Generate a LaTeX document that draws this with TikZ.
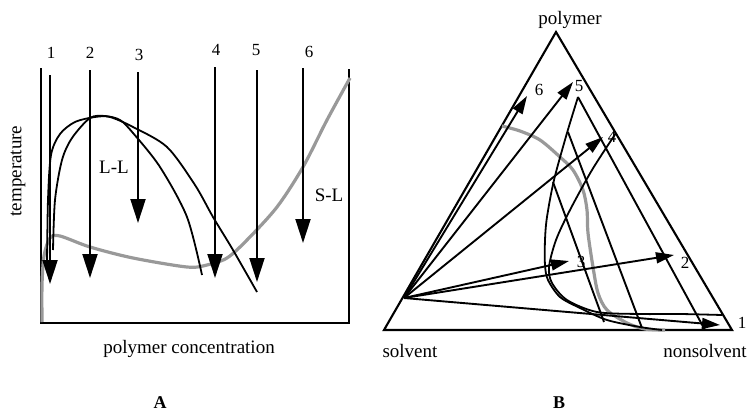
\documentclass[tikz,border=0pt]{standalone}
\usepackage{fontspec}
\setmainfont{Liberation Serif}
\usetikzlibrary{arrows.meta}

\begin{document}
\begin{tikzpicture}[
    x=1pt, y=-1pt,
    frame/.style={line width=2.1pt},
    cool/.style={-{Triangle[length=24pt, width=15pt]}, line width=2pt},
    ray/.style={-{Triangle[length=18pt, width=11pt]}, line width=1.9pt},
    curve/.style={line width=1.8pt, line join=round},
    tie/.style={line width=1.9pt},
    sl/.style={line width=3.2pt, black!40, line join=round},
    word/.style={font=\fontsize{19}{21}\selectfont, inner sep=0pt},
    num/.style={font=\fontsize{17}{19}\selectfont, inner sep=0pt},
    tag/.style={font=\fontsize{18}{20}\selectfont\bfseries, inner sep=0pt}
]
\useasboundingbox (0,0) rectangle (748,413);

\coordinate (tl) at (41,68);
\coordinate (bl) at (41,323);
\coordinate (br) at (349,323);
\coordinate (tr) at (349,69);
\draw[frame] (tl) -- (bl) -- (br) -- (tr);

\draw[sl] plot[smooth] coordinates {(42,322) (42,285) (44,256) (50,238) (60,236) (90,247) (133,258) (187,267) (207,265) (227,258) (247,240) (277,207) (303,167) (327,120) (350,78)};
\draw[curve] plot[smooth] coordinates {(47,263) (48,200) (51,155) (60,134) (75,122) (95,117) (110,117) (133,127) (167,147) (195,185) (213,217) (233,250) (257,292)};
\draw[curve] plot[smooth] coordinates {(53,250) (55,200) (62,160) (72,138) (90,118) (105,116) (120,120) (133,133) (160,167) (187,217) (202,275)};

\coordinate (a1) at (50,75);   \coordinate (b1) at (50,284);
\coordinate (a2) at (90,70);   \coordinate (b2) at (90,278);
\coordinate (a3) at (138,72);  \coordinate (b3) at (138,223);
\coordinate (a4) at (215,67);  \coordinate (b4) at (215,278);
\coordinate (a5) at (257,70);  \coordinate (b5) at (257,282);
\coordinate (a6) at (303,68);  \coordinate (b6) at (303,243);
\draw[cool] (a1) -- (b1);
\draw[cool] (a2) -- (b2);
\draw[cool] (a3) -- (b3);
\draw[cool] (a4) -- (b4);
\draw[cool] (a5) -- (b5);
\draw[cool] (a6) -- (b6);

\node[num] (l1) at (51,53) {1};
\node[num] (l2) at (90,53) {2};
\node[num] (l3) at (139,55) {3};
\node[num] (l4) at (216,50) {4};
\node[num] (l5) at (256,50) {5};
\node[num] (l6) at (309,52) {6};
\node[word] (ll) at (114,167) {L-L};
\node[word] (sl) at (329,195) {S-L};
\node[word, rotate=90] (temp) at (18,171) {temperature};
\node[word] (conc) at (189,349) {polymer concentration};
\node[tag] (tagA) at (160,403) {A};

\coordinate (poly) at (556,32);
\coordinate (solv) at (384,330);
\coordinate (nons) at (732,330);
\draw[frame] (poly) -- (solv) -- (nons) -- cycle;

\draw[sl] plot[smooth] coordinates {(502,126) (520,131) (540,140) (560,157) (573,170) (583,190) (587,210) (588,233) (593,267) (598,293) (607,310) (627,323) (645,329) (665,330)};
\draw[curve] plot[smooth] coordinates {(578,97) (567,133) (554,180) (547,217) (545,240) (545,265) (548,280) (560,297) (580,308) (607,320) (640,327) (662,330)};
\draw[curve] plot[smooth] coordinates {(616,133) (592,170) (570,210) (556,240) (549,267) (552,283) (567,300) (597,312) (640,314) (680,314) (722,315)};

\coordinate (k1) at (578,97);  \coordinate (m1) at (705,330);
\coordinate (k2) at (568,132); \coordinate (m2) at (642,328);
\coordinate (k3) at (553,182); \coordinate (m3) at (604,322);
\draw[tie] (k1) -- (m1);
\draw[tie] (k2) -- (m2);
\draw[tie] (k3) -- (m3);

\coordinate (src) at (404,298);
\coordinate (t1) at (720,325);
\coordinate (t2) at (674,255);
\coordinate (t3) at (569,261);
\coordinate (t4) at (603,137);
\coordinate (t5) at (573,82);
\coordinate (t6) at (527,96);
\draw[ray] (src) -- (t1);
\draw[ray] (src) -- (t2);
\draw[ray] (src) -- (t3);
\draw[ray] (src) -- (t4);
\draw[ray] (src) -- (t5);
\draw[ray] (src) -- (t6);

\node[num] (r1) at (742,323) {1};
\node[num] (r2) at (685,263) {2};
\node[num] (r3) at (581,262) {3};
\node[num] (r4) at (612,137) {4};
\node[num] (r5) at (579,86) {5};
\node[num] (r6) at (539,90) {6};
\node[word] (wpoly) at (570,20) {polymer};
\node[word] (wsolv) at (410,351) {solvent};
\node[word] (wnons) at (705,351) {nonsolvent};
\node[tag] (tagB) at (559,403) {B};

\end{tikzpicture}
\end{document}
